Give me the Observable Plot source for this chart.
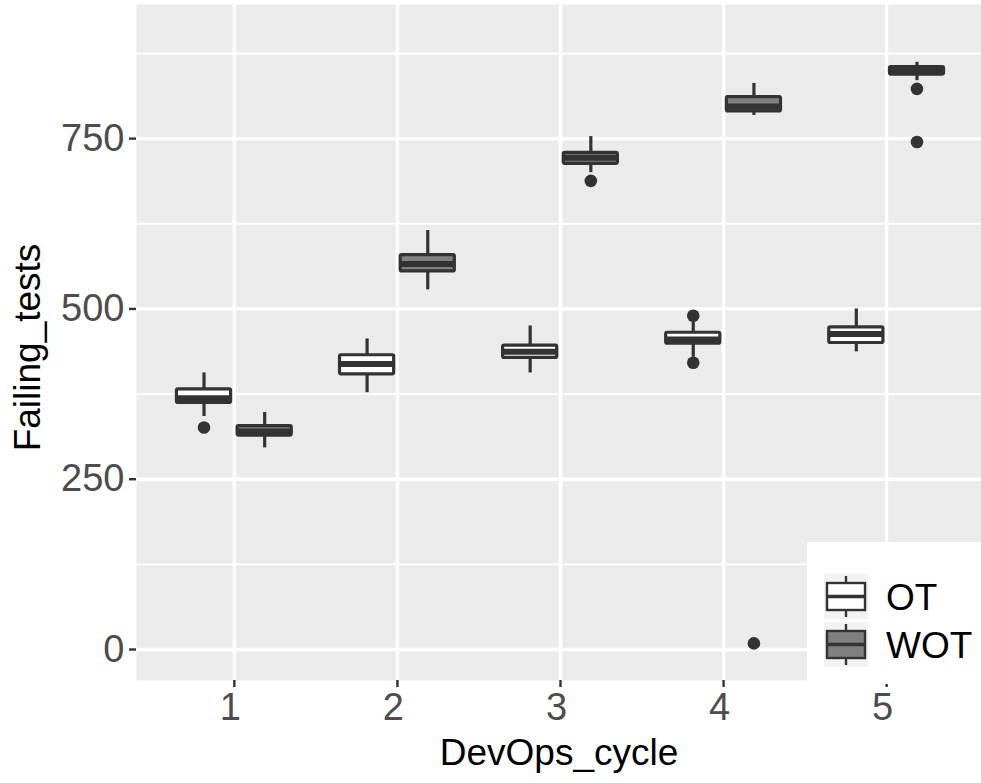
<!DOCTYPE html>
<html>
<head>
<meta charset="utf-8">
<script src="https://cdn.jsdelivr.net/npm/d3@7"></script>
<script src="https://cdn.jsdelivr.net/npm/@observablehq/plot@0.6"></script>
<style>
  html, body { margin: 0; padding: 0; background: #fff; }
  #wrap { position: relative; width: 981px; height: 783px; overflow: hidden; font-family: "Liberation Sans", Arial, Helvetica, sans-serif; }
  #legend { position: absolute; left: 807px; top: 542px; width: 174px; height: 142px; background: #fff; }
  #legend svg { position: absolute; left: 0; top: 0; }
</style>
</head>
<body>
<div id="wrap"></div>
<script>
// ---- data ----
const cycles = [1, 2, 3, 4, 5];
const groups = ["OT", "WOT"];

const otLow  = [342, 377, 406, 429, 437];
const otQ1   = [362, 404, 428, 449, 450];
const otMed  = [369, 419, 437, 455, 463];
const otQ3   = [382, 432, 446, 465, 473];
const otHigh = [406, 456, 475, 480, 500];
const otOutCycle = [1, 4, 4];
const otOutValue = [326, 490, 421];

const wotLow  = [296, 528, 700, 784, 835];
const wotQ1   = [314, 555, 713, 790, 844];
const wotMed  = [320, 566, 722, 797, 850];
const wotQ3   = [328, 579, 729, 811, 855];
const wotHigh = [348, 615, 753, 831, 862];
const wotOutCycle = [3, 4, 5, 5];
const wotOutValue = [688, 9, 823, 745];

const yTicks = [0, 250, 500, 750];
const yMinor = [125, 375, 625, 875];
const xTicks = [1, 2, 3, 4, 5];

const fills = {OT: "#ffffff", WOT: "#808080"};
const dodge = {OT: -0.186, WOT: 0.186};
const halfW = 0.166;

// ---- build tables ----
const boxes = [];
cycles.forEach((c, i) => {
  boxes.push({cycle: c, group: "OT", lo: otLow[i], q1: otQ1[i], med: otMed[i], q3: otQ3[i], hi: otHigh[i]});
  boxes.push({cycle: c, group: "WOT", lo: wotLow[i], q1: wotQ1[i], med: wotMed[i], q3: wotQ3[i], hi: wotHigh[i]});
});
const outliers = [
  ...otOutCycle.map((c, i) => ({cycle: c, group: "OT", value: otOutValue[i]})),
  ...wotOutCycle.map((c, i) => ({cycle: c, group: "WOT", value: wotOutValue[i]}))
];
const cx = d => d.cycle + dodge[d.group];

const font = '"Liberation Sans", Arial, Helvetica, sans-serif';
const ink = "#333333";

const chart = Plot.plot({
  width: 981,
  height: 783,
  marginLeft: 136,
  marginRight: 0,
  marginTop: 4,
  marginBottom: 103,
  x: {type: "linear", domain: [0.4, 5.5816], axis: null},
  y: {domain: [-45.5, 946.9], axis: null},
  style: {fontFamily: font, background: "#fff", overflow: "visible"},
  marks: [
    Plot.frame({fill: "#ebebeb", stroke: "none"}),
    Plot.gridY({ticks: yMinor, stroke: "#fff", strokeOpacity: 1, strokeWidth: 1.8}),
    Plot.gridY({ticks: yTicks, stroke: "#fff", strokeOpacity: 1, strokeWidth: 3.4}),
    Plot.gridX({ticks: xTicks, stroke: "#fff", strokeOpacity: 1, strokeWidth: 3.4}),
    Plot.axisY({ticks: yTicks, tickSize: 7, tickPadding: 5, fontSize: 38, color: "#4d4d4d", stroke: ink, strokeWidth: 2.4}),
    Plot.axisX({ticks: xTicks, tickSize: 7, tickFormat: () => "", stroke: ink, strokeWidth: 2.4}),
    Plot.text(xTicks, {x: d => d, frameAnchor: "bottom", dy: 27, dx: -4, text: d => String(d), fontSize: 38, fill: "#4d4d4d", lineAnchor: "middle"}),
    // whiskers
    Plot.ruleX(boxes, {x: cx, y1: "lo", y2: "hi", stroke: ink, strokeWidth: 3.2}),
    // boxes
    Plot.rect(boxes, {x1: d => cx(d) - halfW, x2: d => cx(d) + halfW, y1: "q1", y2: "q3", fill: d => fills[d.group], stroke: ink, strokeWidth: 3.2, rx: 1.5}),
    // medians
    Plot.ruleY(boxes, {y: "med", x1: d => cx(d) - halfW, x2: d => cx(d) + halfW, stroke: ink, strokeWidth: 6}),
    // outliers
    Plot.dot(outliers, {x: cx, y: "value", r: 6.3, fill: ink, stroke: "none"}),
    // axis titles
    Plot.text(["DevOps_cycle"], {frameAnchor: "bottom", dy: 73, text: d => d, fontSize: 37, fill: "#000", lineAnchor: "middle", textAnchor: "middle"}),
    Plot.text(["Failing_tests"], {frameAnchor: "left", dx: -108, dy: 5, rotate: -90, text: d => d, fontSize: 37, fill: "#000", lineAnchor: "middle", textAnchor: "middle"})
  ]
});

const wrap = document.getElementById("wrap");
wrap.appendChild(chart);

// ---- legend (overlaps the panel, as in the reference) ----
const legend = document.createElement("div");
legend.id = "legend";
const keyRows = groups.map((g, i) => {
  const top = 32 + i * 48;      // key background top, relative to legend box
  const bx = 20, bw = 38;
  const boxTop = top + 9, boxBot = top + 36;
  const mid = (boxTop + boxBot) / 2;
  return `
    <rect x="17" y="${top}" width="44" height="45" fill="#f2f2f2"/>
    <line x1="39" x2="39" y1="${top + 2}" y2="${top + 43}" stroke="${ink}" stroke-width="2.4"/>
    <rect x="${bx}" y="${boxTop}" width="${bw}" height="${boxBot - boxTop}" fill="${fills[g]}" stroke="${ink}" stroke-width="2.4"/>
    <line x1="${bx}" x2="${bx + bw}" y1="${mid}" y2="${mid}" stroke="${ink}" stroke-width="3.6"/>
    <text x="79" y="${boxBot}" font-size="37" font-family='${font}' fill="#000" dominant-baseline="alphabetic">${g}</text>`;
}).join("");
legend.innerHTML = `<svg width="174" height="142" viewBox="0 0 174 142">${keyRows}</svg>`;
wrap.appendChild(legend);
</script>
</body>
</html>
